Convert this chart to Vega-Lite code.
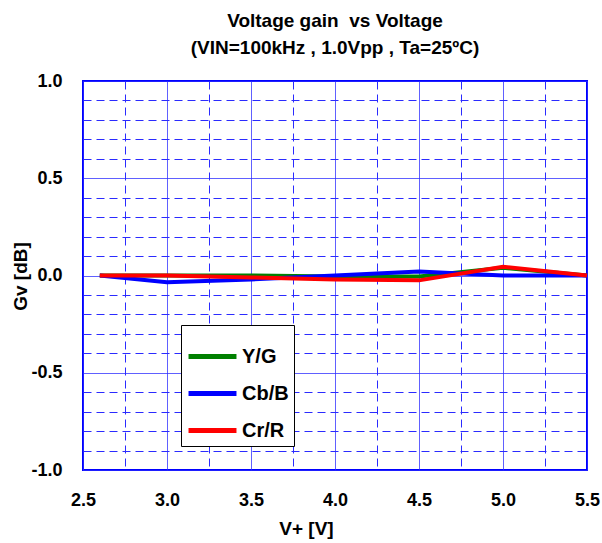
{
  "$schema": "https://vega.github.io/schema/vega-lite/v6.json",
  "width": 504,
  "height": 389,
  "autosize": {"type": "none"},
  "padding": {"left": 83, "top": 81, "right": 15, "bottom": 73},
  "background": "white",
  "config": {
    "font": "Liberation Sans",
    "view": {"stroke": "#0000ff", "strokeWidth": 2}
  },
  "title": {
    "text": "Voltage gain \u00a0vs Voltage",
    "subtitle": "(VIN=100kHz , 1.0Vpp , Ta=25ºC)",
    "anchor": "middle",
    "font": "Liberation Sans",
    "fontSize": 19,
    "fontWeight": "bold",
    "subtitleFont": "Liberation Sans",
    "subtitleFontSize": 19,
    "subtitleFontWeight": "bold",
    "subtitleColor": "black",
    "color": "black",
    "offset": 14,
    "subtitlePadding": 8
  },
  "data": {
    "values": [
      {"v": 2.6, "gv": 0.0, "ch": "Y/G"},
      {"v": 3.0, "gv": 0.0, "ch": "Y/G"},
      {"v": 3.5, "gv": 0.0, "ch": "Y/G"},
      {"v": 4.0, "gv": -0.005, "ch": "Y/G"},
      {"v": 4.5, "gv": -0.005, "ch": "Y/G"},
      {"v": 5.0, "gv": 0.04, "ch": "Y/G"},
      {"v": 5.5, "gv": 0.0, "ch": "Y/G"},
      {"v": 2.6, "gv": 0.0, "ch": "Cb/B"},
      {"v": 3.0, "gv": -0.035, "ch": "Cb/B"},
      {"v": 3.5, "gv": -0.02, "ch": "Cb/B"},
      {"v": 4.0, "gv": 0.0, "ch": "Cb/B"},
      {"v": 4.5, "gv": 0.02, "ch": "Cb/B"},
      {"v": 5.0, "gv": 0.0, "ch": "Cb/B"},
      {"v": 5.5, "gv": 0.0, "ch": "Cb/B"},
      {"v": 2.6, "gv": 0.0, "ch": "Cr/R"},
      {"v": 3.0, "gv": 0.0, "ch": "Cr/R"},
      {"v": 3.5, "gv": -0.01, "ch": "Cr/R"},
      {"v": 4.0, "gv": -0.02, "ch": "Cr/R"},
      {"v": 4.5, "gv": -0.025, "ch": "Cr/R"},
      {"v": 5.0, "gv": 0.045, "ch": "Cr/R"},
      {"v": 5.5, "gv": 0.0, "ch": "Cr/R"}
    ]
  },
  "mark": {"type": "line", "strokeWidth": 4, "strokeJoin": "miter"},
  "encoding": {
    "x": {
      "field": "v",
      "type": "quantitative",
      "scale": {"domain": [2.5, 5.5], "nice": false, "zero": false},
      "axis": {
        "title": "V+ [V]",
        "values": [2.5, 2.75, 3.0, 3.25, 3.5, 3.75, 4.0, 4.25, 4.5, 4.75, 5.0, 5.25, 5.5],
        "labelExpr": "abs(datum.value*2-round(datum.value*2))<0.001 ? format(datum.value,'.1f') : ''",
        "ticks": false,
        "domain": false,
        "labelFlush": false,
        "labelFont": "Liberation Sans",
        "labelFontSize": 18,
        "labelFontWeight": "bold",
        "labelColor": "black",
        "labelPadding": 21,
        "labelOverlap": false,
        "titleFont": "Liberation Sans",
        "titleFontSize": 19,
        "titleFontWeight": "bold",
        "titleColor": "black",
        "titleX": 223,
        "titleY": 58,
        "titleBaseline": "middle",
        "titleAlign": "center",
        "grid": true,
        "gridColor": "#2b2bff",
        "gridOpacity": 1,
        "gridDash": {"condition": {"test": "abs(datum.value*2-round(datum.value*2))<0.001", "value": [1, 0]}, "value": [8, 5]}
      }
    },
    "y": {
      "field": "gv",
      "type": "quantitative",
      "scale": {"domain": [-1, 1], "nice": false},
      "axis": {
        "title": "Gv [dB]",
        "values": [-1, -0.9, -0.8, -0.7, -0.6, -0.5, -0.4, -0.3, -0.2, -0.1, 0, 0.1, 0.2, 0.3, 0.4, 0.5, 0.6, 0.7, 0.8, 0.9, 1],
        "labelExpr": "abs(datum.value*2-round(datum.value*2))<0.001 ? replace(format(datum.value,'.1f'),'\u2212','-') : ''",
        "ticks": false,
        "domain": false,
        "labelFlush": false,
        "labelFont": "Liberation Sans",
        "labelFontSize": 18,
        "labelFontWeight": "bold",
        "labelColor": "black",
        "labelPadding": 21,
        "labelOverlap": false,
        "titleFont": "Liberation Sans",
        "titleFontSize": 19,
        "titleFontWeight": "bold",
        "titleColor": "black",
        "titleAngle": 270,
        "titleX": -63,
        "titleY": 195,
        "titleBaseline": "middle",
        "titleAlign": "center",
        "grid": true,
        "gridColor": "#2b2bff",
        "gridOpacity": 1,
        "gridDash": {"condition": {"test": "abs(datum.value*2-round(datum.value*2))<0.001", "value": [1, 0]}, "value": [8, 5]}
      }
    },
    "color": {
      "field": "ch",
      "type": "nominal",
      "scale": {"domain": ["Y/G", "Cb/B", "Cr/R"], "range": ["#008000", "#0000ff", "#ff0000"]},
      "legend": {
        "title": null,
        "orient": "none",
        "legendX": 98,
        "legendY": 244,
        "fillColor": "white",
        "strokeColor": "black",
        "padding": 5,
        "symbolType": "stroke",
        "symbolSize": 2300,
        "symbolStrokeWidth": 5,
        "labelFont": "Liberation Sans",
        "labelFontSize": 20,
        "labelFontWeight": "bold",
        "labelColor": "black",
        "labelOffset": 3,
        "rowPadding": -1.5,
        "labelLimit": 200
      }
    }
  }
}
